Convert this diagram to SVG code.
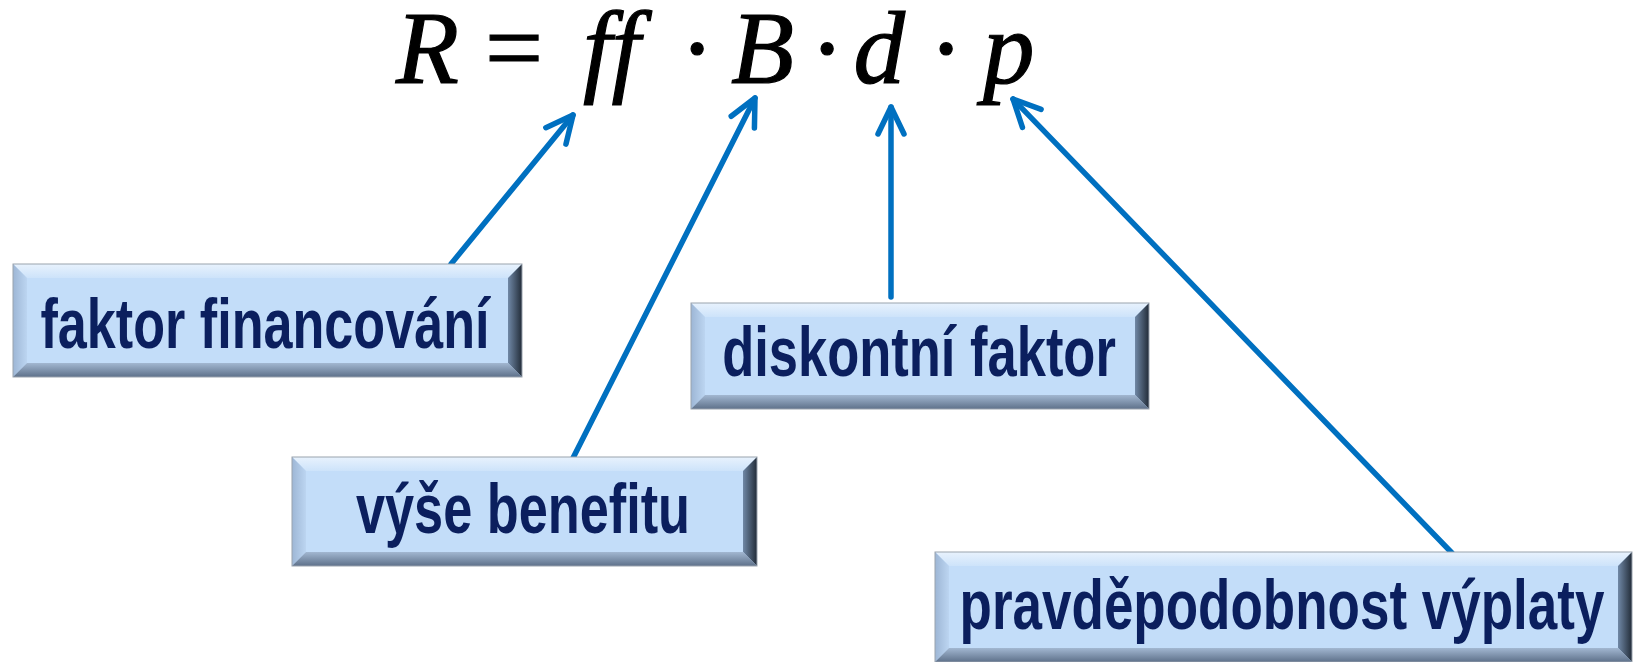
<svg xmlns="http://www.w3.org/2000/svg" width="1633" height="662" viewBox="0 0 1633 662">
<style>
.eq{font-family:"Liberation Serif","Times New Roman",serif;font-size:103px;fill:#000;stroke:#000;stroke-width:1.2;font-variant-ligatures:none}
.it{font-style:italic}
.lbl{font-family:"Liberation Sans",Arial,sans-serif;font-weight:bold;font-size:70px;fill:#0B1F5E;text-anchor:middle}
.c{fill:#C3DDF9}
.t{fill:url(#gTop)}
.l{fill:url(#gLeft)}
.r{fill:url(#gRight)}
.b{fill:url(#gBot)}
.o{fill:none;stroke:#9AA3AE;stroke-width:1}
.arr{fill:none;stroke:#0070C0;stroke-width:5.5;stroke-linecap:round;marker-end:url(#ah)}
</style>
<defs>
<linearGradient id="gTop" x1="0" y1="0" x2="0" y2="1"><stop offset="0" stop-color="#E8F2FD"/><stop offset="1" stop-color="#CDE3FA"/></linearGradient>
<linearGradient id="gLeft" x1="0" y1="0" x2="1" y2="0"><stop offset="0" stop-color="#9DB6D5"/><stop offset="1" stop-color="#BCD5F1"/></linearGradient>
<linearGradient id="gRight" x1="0" y1="0" x2="1" y2="0"><stop offset="0" stop-color="#7088A6"/><stop offset="1" stop-color="#222C38"/></linearGradient>
<linearGradient id="gBot" x1="0" y1="0" x2="0" y2="1"><stop offset="0" stop-color="#A2B7D1"/><stop offset="1" stop-color="#5E718A"/></linearGradient>
<marker id="ah" markerUnits="userSpaceOnUse" orient="auto" refX="0" refY="0" markerWidth="40" markerHeight="40" overflow="visible">
<path d="M -27,-13 L 0,0 L -27,13" fill="none" stroke="#0070C0" stroke-width="5.5" stroke-linecap="round" stroke-linejoin="round"/>
</marker>
</defs>
<rect width="1633" height="662" fill="#FFFFFF"/>

<g id="equation" class="eq">
<text y="83"><tspan class="it" x="396">R</tspan><tspan x="485">=</tspan><tspan class="it" x="583">f</tspan><tspan class="it" x="611.6">f</tspan><tspan x="680">·</tspan><tspan class="it" x="731">B</tspan><tspan x="810">·</tspan><tspan class="it" x="853.5">d</tspan><tspan x="929">·</tspan><tspan class="it" x="983">p</tspan></text>
</g>

<g id="connectors">
<line class="arr" x1="451" y1="264" x2="573" y2="115"/>
<line class="arr" x1="572" y1="460" x2="755" y2="98"/>
<line class="arr" x1="891" y1="297" x2="891" y2="107"/>
<line class="arr" x1="1452" y1="553" x2="1013" y2="99"/>
</g>

<g id="node-faktor-financovani">
<rect class="c" x="13" y="264" width="509" height="113"/>
<path class="t" d="M13,264 H522 L508,278 H27 Z"/>
<path class="l" d="M13,264 L27,278 V363 L13,377 Z"/>
<path class="r" d="M522,264 V377 L508,363 V278 Z"/>
<path class="b" d="M13,377 L27,363 H508 L522,377 Z"/>
<rect class="o" x="13" y="264" width="509" height="113"/>
<text class="lbl" transform="translate(265,348) scale(0.745,1)">faktor financování</text>
</g>

<g id="node-vyse-benefitu">
<rect class="c" x="292" y="457" width="465" height="109"/>
<path class="t" d="M292,457 H757 L743,471 H306 Z"/>
<path class="l" d="M292,457 L306,471 V552 L292,566 Z"/>
<path class="r" d="M757,457 V566 L743,552 V471 Z"/>
<path class="b" d="M292,566 L306,552 H743 L757,566 Z"/>
<rect class="o" x="292" y="457" width="465" height="109"/>
<text class="lbl" transform="translate(523,533) scale(0.747,1)">výše benefitu</text>
</g>

<g id="node-diskontni-faktor">
<rect class="c" x="691" y="303" width="458" height="106"/>
<path class="t" d="M691,303 H1149 L1135,317 H705 Z"/>
<path class="l" d="M691,303 L705,317 V395 L691,409 Z"/>
<path class="r" d="M1149,303 V409 L1135,395 V317 Z"/>
<path class="b" d="M691,409 L705,395 H1135 L1149,409 Z"/>
<rect class="o" x="691" y="303" width="458" height="106"/>
<text class="lbl" transform="translate(919,376) scale(0.75,1)">diskontní faktor</text>
</g>

<g id="node-pravdepodobnost-vyplaty">
<rect class="c" x="935" y="552" width="697" height="110"/>
<path class="t" d="M935,552 H1632 L1618,566 H949 Z"/>
<path class="l" d="M935,552 L949,566 V648 L935,662 Z"/>
<path class="r" d="M1632,552 V662 L1618,648 V566 Z"/>
<path class="b" d="M935,662 L949,648 H1618 L1632,662 Z"/>
<rect class="o" x="935" y="552" width="697" height="110"/>
<text class="lbl" transform="translate(1282,629) scale(0.757,1)">pravděpodobnost výplaty</text>
</g>
</svg>
